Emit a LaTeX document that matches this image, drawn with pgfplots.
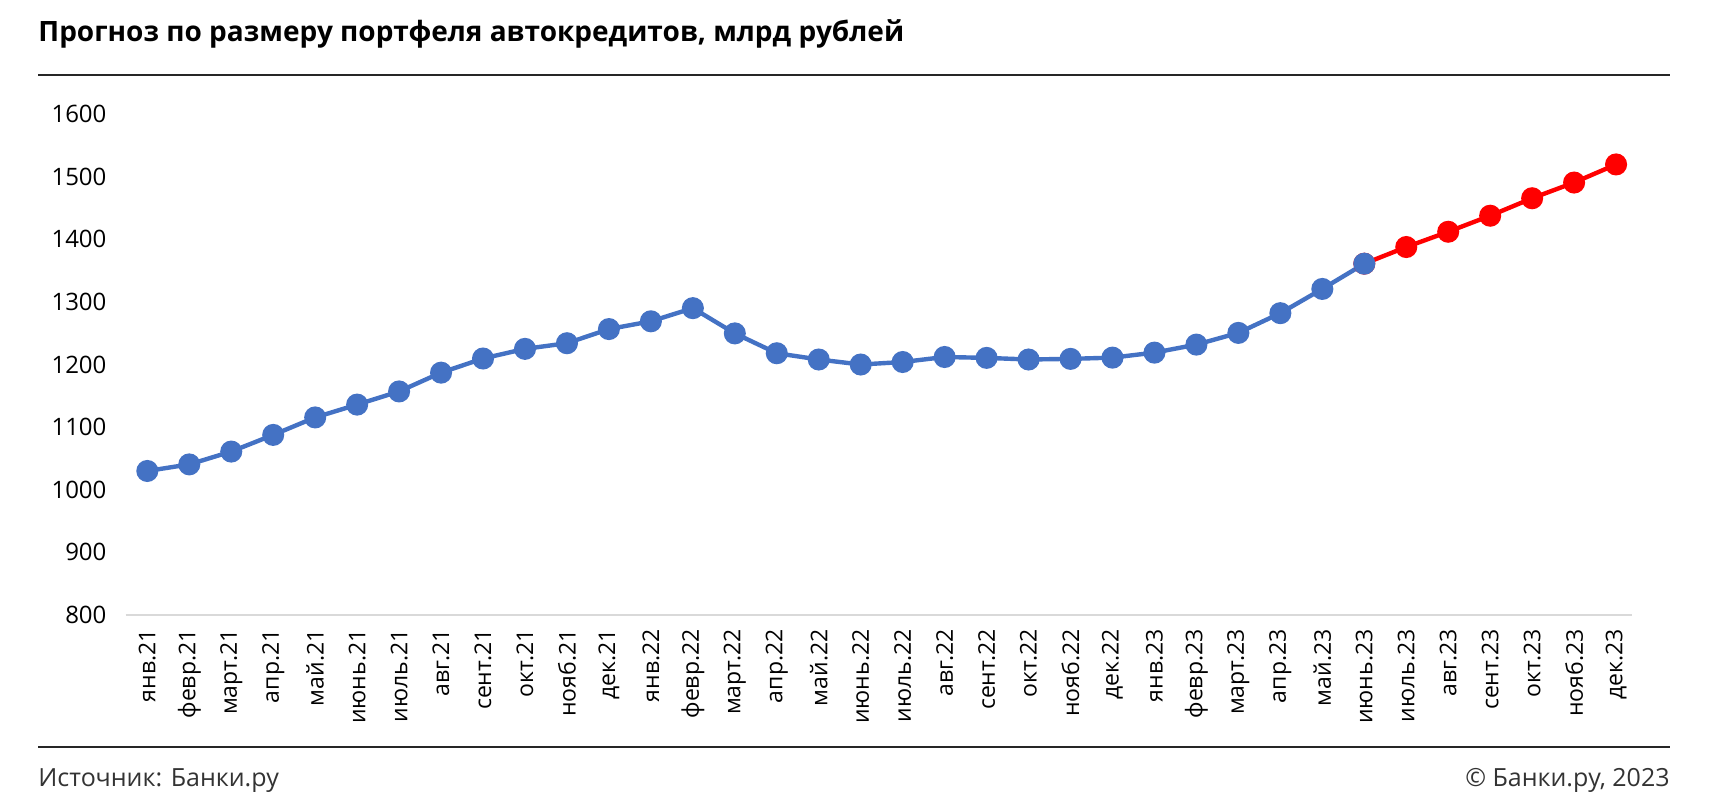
\documentclass[border=0pt]{standalone}
\usepackage{fontspec}
\setmainfont{Open Sans}
\usepackage{pgfplots}
\pgfplotsset{compat=1.18}
\definecolor{blueS}{HTML}{4472C4}
\definecolor{redS}{HTML}{FF0000}
\begin{document}
\begin{tikzpicture}
\path[use as bounding box] (0,0) rectangle (856pt,400pt);
\node[anchor=base west, font=\fontsize{14}{16}\selectfont\bfseries, inner sep=0] at (19pt,379pt) {Прогноз по размеру портфеля автокредитов, млрд рублей};
\draw[line width=0.8pt, black!85] (19pt,362.5pt) -- (835pt,362.5pt);
\draw[line width=0.8pt, black!85] (19pt,26.5pt) -- (835pt,26.5pt);
\node[anchor=base west, font=\fontsize{12.5}{14}\selectfont, inner sep=0, text=black!80] at (19pt,7pt) {Источник: Банки.ру};
\node[anchor=base east, font=\fontsize{12.5}{14}\selectfont, inner sep=0, text=black!80] at (835pt,7pt) {© Банки.ру, 2023};
\begin{axis}[
  at={(62.75pt,92.5pt)}, anchor=south west,
  scale only axis, width=753.25pt, height=250.5pt,
  xmin=-0.52, xmax=35.38, ymin=800, ymax=1600,
  ytick={800,900,...,1600},
  xtick={0,...,35},
  xticklabels={янв.21,февр.21,март.21,апр.21,май.21,июнь.21,июль.21,авг.21,сент.21,окт.21,нояб.21,дек.21,янв.22,февр.22,март.22,апр.22,май.22,июнь.22,июль.22,авг.22,сент.22,окт.22,нояб.22,дек.22,янв.23,февр.23,март.23,апр.23,май.23,июнь.23,июль.23,авг.23,сент.23,окт.23,нояб.23,дек.23},
  xticklabel style={rotate=90, anchor=east, inner sep=0pt, inner xsep=7pt, font=\fontsize{11.5}{13}\selectfont},
  yticklabel style={xshift=-6pt, font=\fontsize{12}{14}\selectfont},
  axis x line*=bottom, axis y line*=left,
  y axis line style={draw=none},
  x axis line style={-, draw=black!15, line width=1.2pt},
  major tick length=0pt,
  tick label style={text=black},
  /pgf/number format/assume math mode=true,
  /pgf/number format/1000 sep={},
  clip=false,
]
\addplot[redS, line width=2.2pt, mark=*, mark size=4.4pt, mark options={fill=redS, draw=redS}] coordinates {
(29,1361) (30,1387.6) (31,1412) (32,1437.6) (33,1465.5) (34,1490.6) (35,1519.5)
};
\addplot[blueS, line width=2.2pt, mark=*, mark size=4.4pt, mark options={fill=blueS, draw=blueS}] coordinates {
(0,1030) (1,1040.5) (2,1061) (3,1087.6) (4,1115.5) (5,1136) (6,1157) (7,1187) (8,1209.6) (9,1225) (10,1234) (11,1256.6)
(12,1269) (13,1290) (14,1249.7) (15,1218) (16,1208) (17,1200) (18,1204) (19,1212) (20,1210.6) (21,1208) (22,1209) (23,1211)
(24,1219) (25,1231.8) (26,1250.5) (27,1282) (28,1320.7) (29,1361)
};
\end{axis}
\end{tikzpicture}
\end{document}
